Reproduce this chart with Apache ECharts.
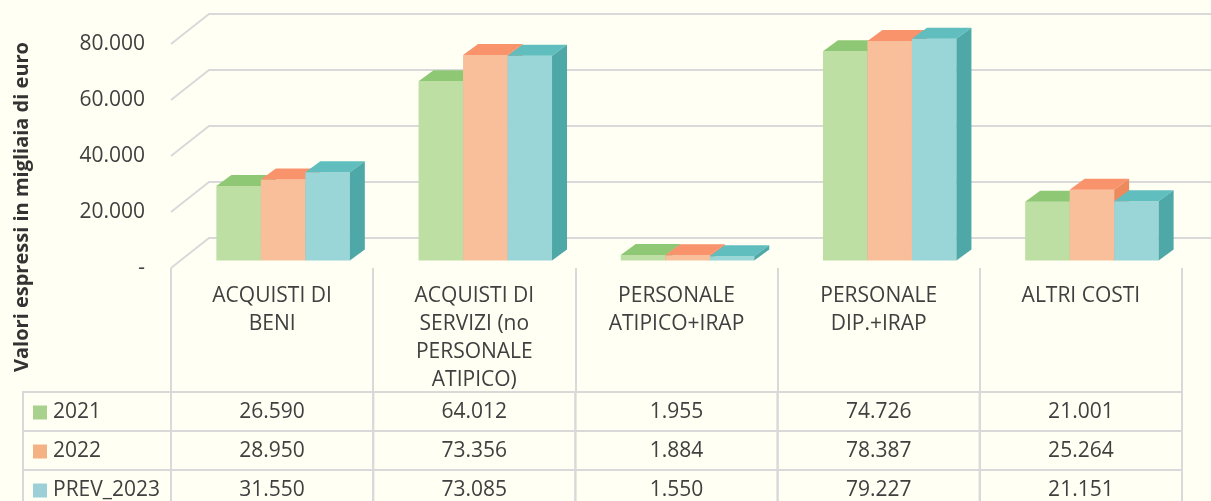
<!DOCTYPE html>
<html>
<head>
<meta charset="utf-8">
<script src="https://cdn.jsdelivr.net/npm/echarts@6/dist/echarts.min.js"></script>
<style>
  html, body { margin: 0; padding: 0; background: #FFFFF3; }
  #chart { width: 1211px; height: 501px; }
</style>
</head>
<body>
<div id="chart"></div>
<script>
const categories = [
  'ACQUISTI DI\nBENI',
  'ACQUISTI DI\nSERVIZI (no\nPERSONALE\nATIPICO)',
  'PERSONALE\nATIPICO+IRAP',
  'PERSONALE\nDIP.+IRAP',
  'ALTRI COSTI'
]
const seriesNames = ['2021', '2022', 'PREV_2023']
const values2021 = [26590, 64012, 1955, 74726, 21001]
const values2022 = [28950, 73356, 1884, 78387, 25264]
const valuesPrev2023 = [31550, 73085, 1550, 79227, 21151]
const yTicks = [0, 20000, 40000, 60000, 80000]

const allValues = [values2021, values2022, valuesPrev2023]

// colori: fronte, cima, lato, legenda
const palette = [
  { front: '#BDDFA3', top: '#8FC874', side: '#7DB560', legend: '#A9D18E' },
  { front: '#F9BF9B', top: '#F8936C', side: '#EC8A5E', legend: '#F4B183' },
  { front: '#9AD5D7', top: '#61BEBF', side: '#4EA8A8', legend: '#9DD0D6' }
]
const FONT = 'Open Sans'
const TEXT = '#404040'
const LINE = '#D9D9D9'
const FS = 21

// spostamenti prospettici (pixel)
const WALL_DX = 38, WALL_DY = 30
const BAR_DX = 11, BAR_DY = 7.5
const DEPTH_DX = 15, DEPTH_DY = 11
const TICK_LEN = 124
const ROW_H = 39
const TABLE_LEFT = 23

function fmt(v) {
  if (v === 0) return '-'
  return String(v).replace(/\B(?=(\d{3})+(?!\d))/g, '.')
}

function gridRender(params, api) {
  const cs = params.coordSys
  const y = api.coord([0, api.value(1)])[1]
  return {
    type: 'polyline',
    shape: { points: [[cs.x, y], [cs.x + WALL_DX, y - WALL_DY], [1211 + 10, y - WALL_DY]] },
    style: { stroke: LINE, lineWidth: 2, fill: null }
  }
}

function barRender(s) {
  return function (params, api) {
    const i = api.value(0)
    const v = api.value(1)
    const base = api.coord([i, 0])
    const top = api.coord([i, v])
    const band = api.size([1, 0])[0]
    const bw = band * 0.22
    const x = base[0] - 1.5 * bw + s * bw + BAR_DX
    const yb = base[1] - BAR_DY
    const yt = top[1] - BAR_DY
    const c = palette[s]
    return {
      type: 'group',
      children: [
        { type: 'rect', shape: { x: x, y: yt, width: bw, height: yb - yt }, style: { fill: c.front } },
        { type: 'polygon', shape: { points: [[x, yt], [x + DEPTH_DX, yt - DEPTH_DY], [x + bw + DEPTH_DX, yt - DEPTH_DY], [x + bw, yt]] }, style: { fill: c.top } },
        { type: 'polygon', shape: { points: [[x + bw, yt], [x + bw + DEPTH_DX, yt - DEPTH_DY], [x + bw + DEPTH_DX, yb - DEPTH_DY], [x + bw, yb]] }, style: { fill: c.side } }
      ]
    }
  }
}

function tableRender(params, api) {
  const cs = params.coordSys
  const i = api.value(0)
  const v = api.value(1)
  const s = api.value(2)
  const cx = api.coord([i, 0])[0]
  const band = api.size([1, 0])[0]
  const top = cs.y + cs.height + TICK_LEN + s * ROW_H
  const font = FS + 'px "' + FONT + '"'
  const children = [
    { type: 'rect', shape: { x: cx - band / 2, y: top, width: band, height: ROW_H }, style: { fill: null, stroke: LINE, lineWidth: 2 } },
    { type: 'text', x: cx, y: top + ROW_H / 2 + 1, style: { text: fmt(v), font: font, fill: TEXT, align: 'center', verticalAlign: 'middle' } }
  ]
  if (i === 0) {
    const mid = top + ROW_H / 2 + 1
    children.push(
      { type: 'rect', shape: { x: TABLE_LEFT, y: top, width: cx - band / 2 - TABLE_LEFT, height: ROW_H }, style: { fill: null, stroke: LINE, lineWidth: 2 } },
      { type: 'rect', shape: { x: 33, y: mid - 7, width: 14, height: 14 }, style: { fill: palette[s].legend } },
      { type: 'text', x: 53, y: mid, style: { text: seriesNames[s], font: font, fill: TEXT, align: 'left', verticalAlign: 'middle' } }
    )
  }
  return { type: 'group', children: children }
}

const chart = echarts.init(document.getElementById('chart'))

const barSeries = seriesNames.map((name, s) => ({
  name: name,
  type: 'custom',
  z: 2,
  itemStyle: { color: palette[s].legend },
  renderItem: barRender(s),
  encode: { x: 0, y: 1 },
  data: allValues[s].map((v, i) => [i, v])
}))

const tableData = []
allValues.forEach((arr, s) => arr.forEach((v, i) => tableData.push([i, v, s])))

const option = {
  backgroundColor: '#FFFFF3',
  animation: false,
  textStyle: { fontFamily: FONT },
  grid: { left: 171, right: 29, top: 44, bottom: 233 },
  graphic: [{
    type: 'text',
    x: 22,
    y: 207,
    rotation: Math.PI / 2,
    style: {
      text: 'Valori espressi in migliaia di euro',
      font: 'bold 20px "' + FONT + '"',
      fill: '#333333',
      align: 'center',
      verticalAlign: 'middle'
    }
  }],
  xAxis: {
    type: 'category',
    data: categories,
    axisLine: { show: false },
    axisTick: { show: true, length: TICK_LEN, interval: 0, lineStyle: { color: LINE, width: 2 } },
    axisLabel: { interval: 0, margin: 14, fontSize: FS, lineHeight: 28, color: TEXT, fontFamily: FONT }
  },
  yAxis: {
    type: 'value',
    min: 0,
    max: 80000,
    interval: 20000,
    axisLine: { show: false },
    axisTick: { show: false },
    splitLine: { show: false },
    axisLabel: { margin: 26, fontSize: FS, color: TEXT, fontFamily: FONT, formatter: fmt }
  },
  series: [
    {
      name: 'grid3d',
      type: 'custom',
      z: 1,
      renderItem: gridRender,
      encode: { x: 0, y: 1 },
      data: yTicks.map(t => [0, t])
    },
    ...barSeries,
    {
      name: 'table',
      type: 'custom',
      z: 3,
      renderItem: tableRender,
      encode: { x: 0, y: 1 },
      data: tableData
    }
  ]
}

chart.setOption(option)
</script>
</body>
</html>
